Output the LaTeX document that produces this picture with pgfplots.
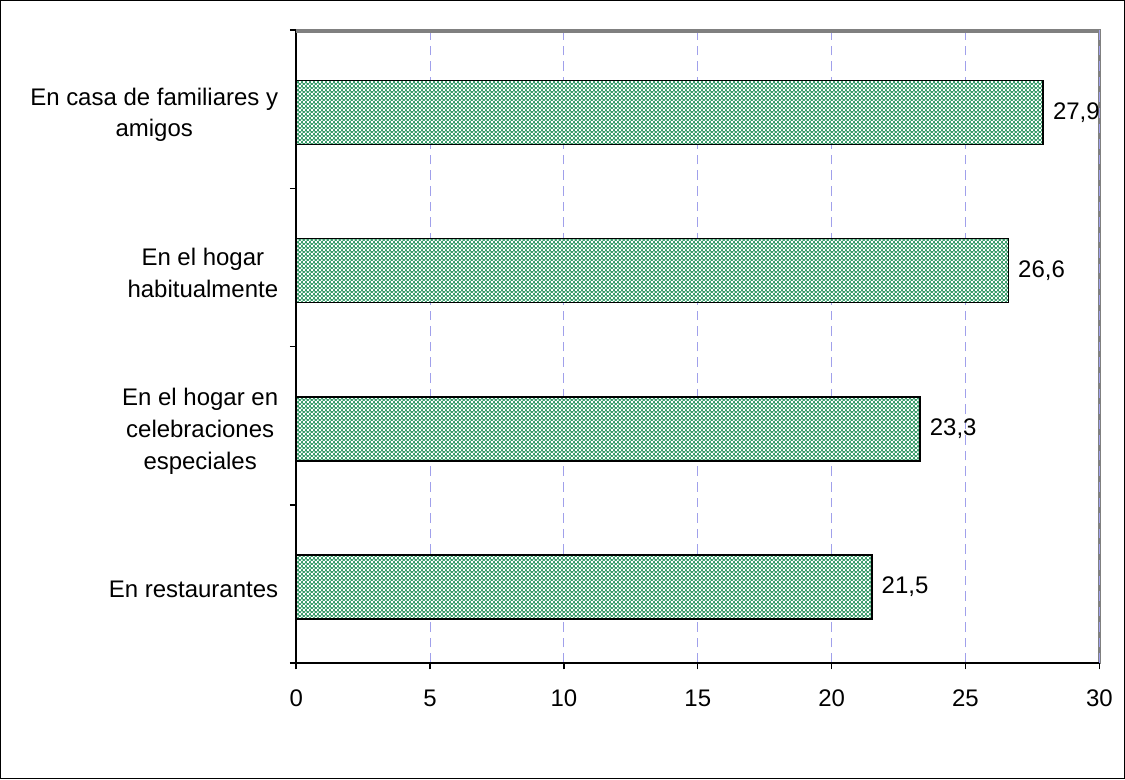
\documentclass[border=0pt]{standalone}
\usepackage{pgfplots}
\pgfplotsset{compat=1.18}
\usepackage{fontspec}
\setmainfont{Liberation Sans}
\usetikzlibrary{patterns}

\definecolor{barGreen}{RGB}{51,153,102}
\definecolor{gridBlue}{RGB}{160,160,235}
\definecolor{frameGray}{RGB}{128,128,128}

% small checkerboard of light squares laid over the bar colour
\pgfdeclarepatternformonly{finechecker}{\pgfpointorigin}{\pgfqpoint{1.6pt}{1.6pt}}{\pgfqpoint{1.6pt}{1.6pt}}{%
  \pgfpathrectangle{\pgfpointorigin}{\pgfqpoint{0.8pt}{0.8pt}}%
  \pgfpathrectangle{\pgfqpoint{0.8pt}{0.8pt}}{\pgfqpoint{0.8pt}{0.8pt}}%
  \pgfusepath{fill}}

\pgfplotstableread{
pos value
0 21.5
1 23.3
2 26.6
3 27.9
}\lugares

\begin{document}
\fontsize{10}{13.5}\selectfont
\begin{tikzpicture}
  % outer chart frame
  \draw[black, line width=0.5pt] (0,0) rectangle (468.75pt,324.6pt);
  \begin{axis}[
    name=ax,
    at={(123.3pt,48.3pt)}, anchor=south west,
    scale only axis,
    width=335pt, height=264pt,
    % plot area border: top and right sides in grey
    axis background/.style={draw=frameGray, line width=1pt},
    xmin=0, xmax=30,
    ymin=-0.48, ymax=3.52,
    xtick={0,5,...,30},
    ytick={-0.48,0.52,1.52,2.52,3.52},
    yticklabels={},
    extra y ticks={0,1,2,3},
    extra y tick labels={En restaurantes,
      {En el hogar en\\celebraciones\\especiales},
      {En el hogar\\habitualmente},
      {En casa de familiares y\\amigos}},
    extra y tick style={major tick length=0pt, grid=none,
      yticklabel style={align=center, font=\fontsize{10}{13.2}\selectfont, xshift=-4pt, yshift=-1pt}},
    axis x line*=bottom,
    axis y line*=left,
    axis line style={-, black, line width=0.6pt},
    tick align=outside,
    major tick length=2.6pt,
    tick style={black, line width=0.6pt},
    xmajorgrids,
    grid style={gridBlue, dash pattern=on 4pt off 2.5pt, line width=0.4pt},
    xticklabel style={font=\fontsize{10}{12}\selectfont, yshift=-5pt},
    /pgf/number format/assume math mode=true,
    /pgf/number format/use comma,
    xbar,
    bar width=0.405,
    nodes near coords={\pgfmathprintnumber[fixed, fixed zerofill, precision=1]{\pgfplotspointmeta}},
    nodes near coords style={font=\fontsize{10}{12}\selectfont, xshift=0.5pt},
  ]
    \addplot[draw=black, line width=0.6pt, fill=barGreen,
      postaction={pattern=finechecker, pattern color=white}]
      table[x=value, y=pos] {\lugares};
  \end{axis}
  % top edge of the plot area, drawn again over everything
  \draw[frameGray, line width=1.1pt] ([yshift=-0.5pt]ax.north west) -- ([yshift=-0.5pt]ax.north east);
\end{tikzpicture}
\end{document}
